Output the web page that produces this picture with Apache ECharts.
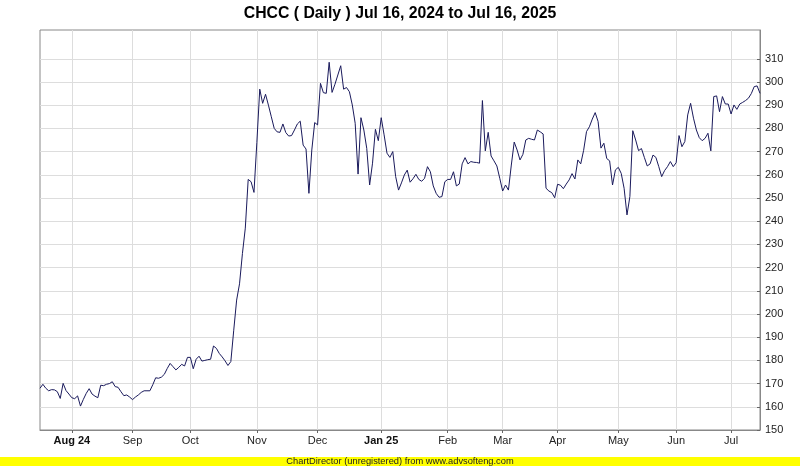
<!DOCTYPE html>
<html><head><meta charset="utf-8">
<script src="https://cdn.jsdelivr.net/npm/echarts@6/dist/echarts.min.js"></script>
<style>html,body{margin:0;padding:0;background:#fff}#c{width:800px;height:466px}</style>
</head><body><div id="c"></div>
<script>
const chartTitle = "CHCC ( Daily ) Jul 16, 2024 to Jul 16, 2025";
const footerText = "ChartDirector (unregistered) from www.advsofteng.com";

// months covered and number of trading sessions drawn in each
const months = ["2024-07","2024-08","2024-09","2024-10","2024-11","2024-12","2025-01","2025-02","2025-03","2025-04","2025-05","2025-06","2025-07"];
const monthSessions = [11,21,20,23,21,22,23,19,19,21,20,19,11];
const monthLabels = ["","Aug 24","Sep","Oct","Nov","Dec","Jan 25","Feb","Mar","Apr","May","Jun","Jul"];
const boldLabels = ["Aug 24","Jan 25"];

const yTicks = [150,160,170,180,190,200,210,220,230,240,250,260,270,280,290,300,310];
const yMin = 150, yMax = 322.4;

const closePrices = [
168.0,169.7,168.0,166.9,167.4,167.3,166.5,163.6,170.1,167.0,
165.5,163.9,163.5,164.7,160.3,163.2,165.8,167.8,165.5,164.6,
163.9,169.3,169.1,169.7,170.0,170.8,168.7,168.4,166.5,164.8,
165.1,164.2,163.1,164.2,165.1,166.2,166.9,166.9,166.9,169.5,
172.5,172.3,172.8,174.0,176.5,178.7,177.3,175.9,177.0,178.3,
177.6,181.3,181.3,176.4,180.5,181.8,179.7,180.0,180.3,180.5,
186.2,185.2,183.0,181.5,179.8,177.8,179.5,193.0,206.0,213.0,
226.0,237.0,258.0,257.0,252.4,274.0,296.9,290.8,294.7,290.0,
285.0,280.0,278.5,278.3,281.9,278.2,276.7,276.9,279.3,281.9,
283.1,272.8,271.1,252.0,270.7,282.5,281.5,299.4,295.4,295.1,
308.5,295.5,299.0,303.0,307.0,296.9,297.6,295.8,290.1,282.2,
260.3,284.6,279.3,271.4,255.6,265.0,279.6,274.7,284.6,277.2,
269.3,267.5,270.0,259.2,253.4,256.5,259.9,262.0,256.8,258.3,
260.2,258.0,257.2,258.5,263.5,261.3,255.2,252.0,250.3,250.6,
257.0,258.0,258.0,261.3,255.2,256.0,264.7,267.4,264.7,265.7,
265.4,265.3,265.0,292.0,270.3,278.3,268.1,266.0,263.8,258.5,
253.0,255.6,253.4,264.2,274.1,270.7,266.4,268.8,275.0,275.7,
275.3,275.0,279.3,278.5,277.6,254.2,253.0,252.3,250.1,255.9,
255.5,254.0,256.0,257.8,260.5,258.2,266.4,264.7,270.5,278.6,
280.7,284.0,286.8,283.0,271.5,273.6,267.0,266.0,255.6,262.1,
263.2,260.6,254.2,242.7,250.6,279.0,275.0,270.4,271.3,267.5,
263.8,264.7,268.5,267.5,263.5,259.2,261.8,263.5,265.7,263.5,
265.2,276.9,272.1,274.3,285.8,290.8,284.4,279.3,276.0,274.7,
275.7,277.9,270.3,293.7,294.0,287.2,293.7,290.5,290.5,286.2,
290.1,288.2,290.5,291.2,292.0,293.0,295.0,298.0,298.3,295.1
];

// build trading-day categories (weekdays) per month
const dates = [];
const dateLabel = {};
months.forEach((m, mi) => {
  const [yy, mm] = m.split("-").map(Number);
  let d = mi === 0 ? 16 : 1;
  let n = 0;
  while (n < monthSessions[mi]) {
    const dt = new Date(Date.UTC(yy, mm - 1, d));
    const wd = dt.getUTCDay();
    if (wd !== 0 && wd !== 6) {
      const s = m + "-" + String(d).padStart(2, "0");
      if (n === 0 && monthLabels[mi]) dateLabel[s] = monthLabels[mi];
      dates.push(s);
      n++;
    }
    d++;
  }
});
const isMonthStart = (i, v) => dateLabel[v] !== undefined;

const FONT = "Liberation Sans, Arial, sans-serif";
const chart = echarts.init(document.getElementById("c"), null, {renderer: "canvas"});
chart.setOption({
  animation: false,
  backgroundColor: "#ffffff",
  title: {
    text: chartTitle, left: "center", top: 1,
    textStyle: {fontFamily: FONT, fontSize: 15.8, fontWeight: "bold", color: "#000"}
  },
  grid: {left: 40, right: 40, top: 30, bottom: 36, show: true, borderColor: "#888888", borderWidth: 1, backgroundColor: "#ffffff"},
  xAxis: {
    type: "category", data: dates, boundaryGap: false,
    axisLine: {show: true, lineStyle: {color: "#888888", width: 1}},
    axisTick: {show: true, interval: isMonthStart, length: 3, inside: false, lineStyle: {color: "#666666"}},
    splitLine: {show: true, interval: isMonthStart, lineStyle: {color: "#dddddd", width: 1}},
    axisLabel: {
      interval: isMonthStart, margin: 5, fontFamily: FONT, fontSize: 11, color: "#222",
      formatter: v => {
        const l = dateLabel[v] || "";
        return boldLabels.includes(l) ? "{b|" + l + "}" : l;
      },
      rich: {b: {fontFamily: FONT, fontSize: 11, fontWeight: "bold", color: "#111"}}
    }
  },
  yAxis: {
    type: "value", position: "right", min: yMin, max: yMax,
    axisLine: {show: true, lineStyle: {color: "#888888", width: 1}},
    axisTick: {show: true, inside: true, length: 3, customValues: yTicks, lineStyle: {color: "#666666"}},
    axisLabel: {customValues: yTicks, margin: 5, fontFamily: FONT, fontSize: 11, color: "#222"},
    splitLine: {show: true, lineStyle: {color: "#dddddd", width: 1}}
  },
  series: [{
    type: "line", data: closePrices, showSymbol: false, symbol: "none",
    lineStyle: {color: "#1a1a5c", width: 1}, z: 5
  }],
  graphic: [
    {type: "rect", left: 0, top: 457, shape: {width: 800, height: 9}, style: {fill: "#ffff00"}, z: 100},
    {type: "text", left: "center", top: 456.5, style: {text: footerText, font: "9.3px " + FONT, fill: "#222"}, z: 101}
  ]
});
</script>
</body></html>
